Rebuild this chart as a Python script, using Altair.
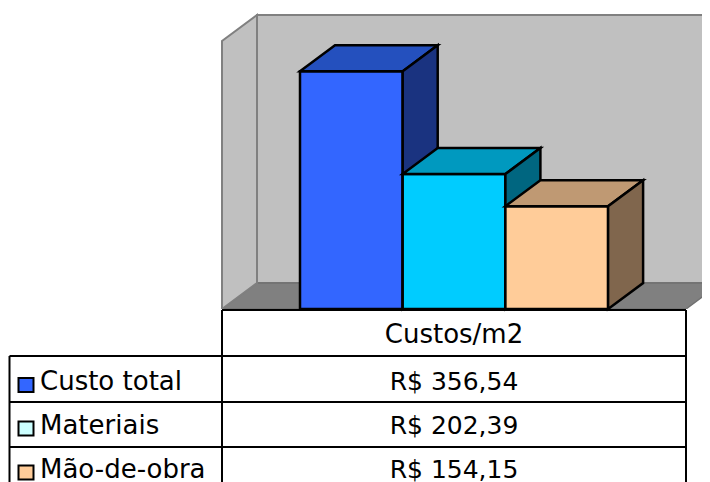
import altair as alt
import pandas as pd

# ---------------- data ----------------
categories = ["Custo total", "Materiais", "Mão-de-obra"]
values = [356.54, 202.39, 154.15]
header_label = "Custos/m2"

# ---------------- styles ----------------
front_colors = ["#3366FF", "#00CCFF", "#FFCC99"]
top_colors = ["#2450BE", "#0099BF", "#BF9973"]
side_colors = ["#1A3380", "#006680", "#80664D"]
swatch_colors = ["#3366FF", "#CCFFFF", "#FFCC99"]
FONT = "DejaVu Sans"
FS = 25

W = 694          # px
H1 = 301         # 3D plot height in px
H2 = 173         # table height in px
PX_PER_UNIT = 2 / 3
YMAX = H1 / PX_PER_UNIT
DX, DY = 35, 26 / PX_PER_UNIT      # depth offset (px, value units)
WALL_X0, WALL_X1, WALL_TOP = 214, 678, 402
BAR_X0, BAR_W = 292, 102.7

xs = alt.Scale(domain=[0, W], nice=False, zero=False)
ys = alt.Scale(domain=[0, YMAX], nice=False, zero=False)


def enc_area(df, **mk):
    return alt.Chart(df).mark_area(orient="vertical", interpolate="linear", **mk).encode(
        x=alt.X("x:Q", scale=xs, axis=None),
        y=alt.Y("y:Q", scale=ys, axis=None),
        y2="y2:Q",
    )


# back wall
back = alt.Chart(pd.DataFrame({"x": [WALL_X0 + DX], "x2": [WALL_X1 + DX + 40],
                                "y": [DY], "y2": [WALL_TOP + DY]})).mark_rect(
    fill="#C0C0C0", stroke="#808080", strokeWidth=2, clip=True
).encode(x=alt.X("x:Q", scale=xs, axis=None), x2="x2:Q",
         y=alt.Y("y:Q", scale=ys, axis=None), y2="y2:Q")

floor = enc_area(pd.DataFrame({
    "x": [WALL_X0, WALL_X0 + DX, WALL_X1, WALL_X1 + DX],
    "y": [0, 0, 0, DY],
    "y2": [0, DY, DY, DY],
}), fill="#808080", stroke="#707070", strokeWidth=1.5, clip=True)

side_wall = enc_area(pd.DataFrame({
    "x": [WALL_X0, WALL_X0 + DX],
    "y": [0, DY],
    "y2": [WALL_TOP, WALL_TOP + DY],
}), fill="#C0C0C0", stroke="#808080", strokeWidth=2, clip=True)

layers = [back, floor, side_wall]

for i, (cat, v) in enumerate(zip(categories, values)):
    x0 = BAR_X0 + i * BAR_W
    x1 = x0 + BAR_W
    front = alt.Chart(pd.DataFrame({"x": [x0], "x2": [x1], "y": [0], "y2": [v]})).mark_rect(
        fill=front_colors[i], stroke="black", strokeWidth=2.5
    ).encode(x=alt.X("x:Q", scale=xs, axis=None), x2="x2:Q",
             y=alt.Y("y:Q", scale=ys, axis=None), y2="y2:Q")
    top = enc_area(pd.DataFrame({
        "x": [x0, x0 + DX, x1, x1 + DX],
        "y": [v, v, v, v + DY],
        "y2": [v, v + DY, v + DY, v + DY],
    }), fill=top_colors[i], stroke="black", strokeWidth=2.5)
    side = enc_area(pd.DataFrame({
        "x": [x1, x1 + DX],
        "y": [0, DY],
        "y2": [v, v + DY],
    }), fill=side_colors[i], stroke="black", strokeWidth=2.5)
    layers += [front, top, side]

chart3d = alt.layer(*layers).properties(width=W, height=H1)

# ---------------- data table ----------------
tx = alt.Scale(domain=[0, W], nice=False, zero=False)
ty = alt.Scale(domain=[0, H2], nice=False, zero=False, reverse=True)

COL0, COL1, COL2 = 1.5, 214, 678
HEAD_TOP = 1
row_tops = [47, 93, 138]
baselines = [81, 124.5, 168.5]

hlines = pd.DataFrame({
    "x": [COL1] + [COL0] * len(categories),
    "x2": [COL2] * (len(categories) + 1),
    "y": [HEAD_TOP] + row_tops,
})
vlines = pd.DataFrame({
    "x": [COL0, COL1, COL2],
    "y": [row_tops[0], HEAD_TOP, HEAD_TOP],
    "y2": [H2, H2, H2],
})

hrule = alt.Chart(hlines).mark_rule(color="black", strokeWidth=2).encode(
    x=alt.X("x:Q", scale=tx, axis=None), x2="x2:Q", y=alt.Y("y:Q", scale=ty, axis=None))
vrule = alt.Chart(vlines).mark_rule(color="black", strokeWidth=2, clip=True).encode(
    x=alt.X("x:Q", scale=tx, axis=None), y=alt.Y("y:Q", scale=ty, axis=None), y2="y2:Q")

tbl = pd.DataFrame({
    "cat": categories,
    "val": values,
    "base": baselines,
})
tbl["label"] = tbl["val"].map(lambda v: "R$ " + f"{v:.2f}".replace(".", ","))
tbl["sy"] = tbl["base"] - 12
tbl["sy2"] = tbl["base"] + 2
tbl["sx"] = 10.5
tbl["sx2"] = 25.5
tbl["lx"] = 32
tbl["cx"] = (COL1 + COL2) / 2

swatch = alt.Chart(tbl).mark_rect(stroke="black", strokeWidth=2, clip=True).encode(
    x=alt.X("sx:Q", scale=tx, axis=None), x2="sx2:Q",
    y=alt.Y("sy:Q", scale=ty, axis=None), y2="sy2:Q",
    fill=alt.Fill("cat:N", scale=alt.Scale(domain=categories, range=swatch_colors), legend=None),
)
lab = alt.Chart(tbl).mark_text(align="left", baseline="alphabetic", font=FONT, fontSize=FS + 1,
                               color="black", clip=True).encode(
    x=alt.X("lx:Q", scale=tx, axis=None), y=alt.Y("base:Q", scale=ty, axis=None), text="cat:N")
val = alt.Chart(tbl).mark_text(align="center", baseline="alphabetic", font=FONT, fontSize=FS,
                               color="black", clip=True).encode(
    x=alt.X("cx:Q", scale=tx, axis=None), y=alt.Y("base:Q", scale=ty, axis=None), text="label:N")
head = alt.Chart(pd.DataFrame({"t": [header_label], "x": [(COL1 + COL2) / 2], "y": [34]})
                 ).mark_text(align="center", baseline="alphabetic", font=FONT, fontSize=FS + 1,
                             color="black").encode(
    x=alt.X("x:Q", scale=tx, axis=None), y=alt.Y("y:Q", scale=ty, axis=None), text="t:N")

table = alt.layer(hrule, vrule, swatch, lab, val, head).properties(width=W, height=H2)

chart = alt.vconcat(chart3d, table, spacing=0, bounds="flush").properties(padding=0).configure_view(
    stroke=None).configure_concat(spacing=0)

chart.save("out.html", embed_options={"renderer": "svg", "actions": False})
